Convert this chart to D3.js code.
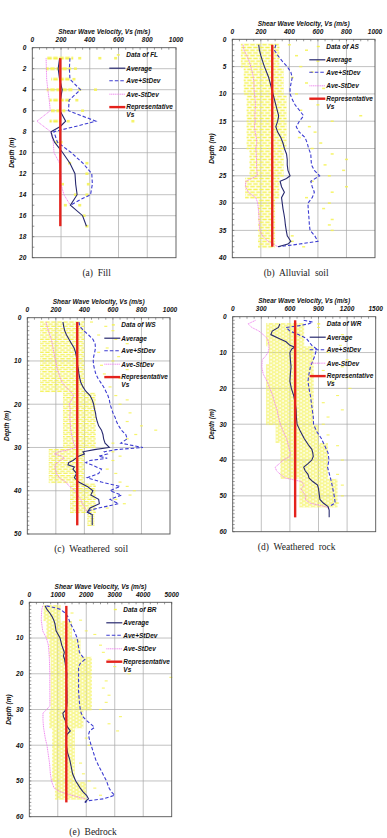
<!DOCTYPE html>
<html>
<head>
<meta charset="utf-8">
<script src="https://cdn.jsdelivr.net/npm/d3@7"></script>
<style>
body { margin: 0; background: #fff; }
svg text { font-family: "Liberation Sans", Arial, sans-serif; }
.ax { font-weight: bold; font-style: italic; font-size: 6.5px; fill: #111; }
.cap { font-family: "Liberation Serif", "Times New Roman", serif; font-size: 9.5px; white-space: pre; fill: #222; }
</style>
</head>
<body>
<script>
// ---- data: [depth (m), Vs (m/s)] ----
var codes = ["FL", "AS", "WS", "WR", "BR"];
var captions = ["(a)  Fill", "(b)  Alluvial  soil", "(c)  Weathered  soil", "(d)  Weathered  rock", "(e)  Bedrock"];
var xTicks = [[0, 200, 400, 600, 800, 1000], [0, 200, 400, 600, 800, 1000], [0, 200, 400, 600, 800, 1000],
              [0, 300, 600, 900, 1200, 1500], [0, 1000, 2000, 3000, 4000, 5000]];
var yTicks = [[0, 2, 4, 6, 8, 10, 12, 14, 16, 18, 20], [0, 5, 10, 15, 20, 25, 30, 35, 40],
              [0, 10, 20, 30, 40, 50], [0, 10, 20, 30, 40, 50, 60], [0, 10, 20, 30, 40, 50, 60]];
// representative Vs: [Vs, top depth, bottom depth]
var repVs = [[195, 1, 17], [280, 1, 38], [350, 1, 48], [655, 1, 56], [1300, 1, 56]];

var fl_avg = [[1,190],[2,180],[3,190],[4,208],[5,195],[6,193],[7,232],[7.5,195],[8,130],[8.5,140],[9,155],[10,212],[11,262],[12,297],[13,302],[14,312],[15,265],[16,350],[17,377]];
var fl_plus = [[1,262],[2,258],[3,262],[4,335],[5,256],[6,252],[7,442],[7.5,300],[8,150],[9,175],[10,272],[11,352],[12,414],[13,418],[14,405],[14.5,330],[15,265]];
var fl_minus = [[1,96],[2,98],[3,100],[4,108],[5,118],[6,125],[7,32],[8,128],[9,146],[10,151],[11,190],[12,200],[13,200],[14,220],[15,265]];
// dense rows of raw data: [top depth, bottom depth, low Vs, high Vs]
var fl_band = [[1,1,100,285],[2,2,95,270],[3,3,130,260],[4,4,100,280],[5,5,120,260],[6,6,130,230],[7,7,120,200]];
var fl_pts = [[1,330],[1,470],[1,580],[2,300],[3,290],[4,330],[4,440],[5,310],[6,350],[7,250],[7,700],[9,170],[9,200],[11,260],[11,380],[12,380],[13,210],[13,390],[14,300],[14,380],[15,230],[15,330],[16,360],[17,380]];

var as_avg = [[1,185],[2,190],[3,200],[4,212],[5,225],[6,240],[7,255],[8,265],[9,275],[10,285],[11,295],[12,305],[13,315],[14,325],[15,318],[16,305],[17,318],[18,340],[19,355],[20,365],[21,380],[22,385],[23,385],[24,390],[25,405],[25.5,380],[26,335],[27,345],[28,365],[29,345],[30,350],[31,355],[32,362],[33,368],[34,372],[35,378],[36,385],[37,410],[37.5,390],[38,320]];
var as_plus = [[1,305],[2,295],[3,320],[4,350],[5,385],[6,410],[7,420],[8,412],[9,405],[10,405],[11,420],[12,440],[13,470],[14,500],[15,470],[16,448],[17,470],[18,510],[19,525],[20,535],[21,550],[22,552],[23,555],[24,575],[25,612],[26,550],[27,560],[28,575],[29,560],[30,530],[31,532],[32,535],[33,538],[34,540],[35,545],[36,578],[37,600],[37.5,470],[38,325]];
var as_minus = [[1,75],[2,82],[3,102],[4,118],[5,130],[6,140],[7,148],[8,152],[9,152],[10,155],[11,160],[12,162],[13,160],[14,158],[15,160],[16,155],[17,160],[18,168],[19,172],[20,165],[21,168],[22,170],[23,170],[24,172],[25,175],[25.5,135],[26,95],[27,92],[28,112],[29,165],[30,178],[31,182],[32,186],[33,187],[34,190],[35,192],[36,212],[37,250],[38,320]];
var as_band = [[1,5,60,330],[5.5,10,80,360],[10.5,20,100,380],[20.5,25,120,360],[25.5,29,90,330],[29.5,38,180,300]];
var as_pts = [[1,400],[2,520],[3,450],[4,600],[5,480],[6,560],[7,420],[8,520],[9,640],[10,450],[11,560],[12,600],[13,480],[14,900],[15,700],[16,540],[17,580],[18,470],[19,620],[20,560],[21,700],[22,800],[23,650],[24,780],[25,680],[26,560],[27,800],[28,700],[29,520],[30,680],[31,640],[33,700],[34,680],[35,700],[36,420],[37,420],[38,500]];

var ws_avg = [[1,250],[2,255],[3,262],[4,275],[5,292],[6,310],[7,328],[8,338],[9,344],[10,348],[11,352],[12,358],[13,362],[14,368],[15,375],[16,390],[17,410],[18,440],[19,455],[20,465],[21,470],[22,478],[23,482],[24,490],[25,500],[26,520],[27,530],[28,535],[29,545],[30,575],[30.5,470],[31,390],[31.5,400],[32,360],[33,320],[33.5,290],[34,285],[34.5,330],[35,320],[36,345],[37,330],[38,360],[39,420],[40,460],[41,445],[42,500],[43,505],[44,440],[45,420],[45.5,455],[48,455]];
var ws_plus = [[1,362],[2,368],[3,395],[4,430],[5,460],[6,475],[7,478],[8,472],[9,465],[10,462],[11,465],[12,472],[13,480],[14,495],[15,515],[16,535],[17,550],[18,565],[19,575],[20,580],[21,590],[22,600],[23,615],[24,625],[25,640],[26,660],[27,690],[28,700],[29,655],[30,810],[30.5,620],[31,540],[31.5,560],[32,500],[32.5,560],[33,440],[33.5,410],[34,450],[35,520],[36,500],[37,420],[38,520],[39,650],[40,580],[41,660],[42,580],[43,640],[44,500],[44.5,440],[45,420],[45.5,455]];
var ws_minus = [[1,132],[2,138],[3,148],[4,158],[5,168],[6,175],[7,180],[8,186],[9,192],[10,198],[11,205],[12,212],[13,222],[14,232],[15,245],[16,270],[17,300],[18,325],[19,310],[20,295],[21,300],[22,300],[23,298],[24,300],[25,302],[26,305],[27,310],[28,318],[29,325],[30,340],[30.5,290],[31,220],[31.5,190],[32,240],[32.5,260],[33,230],[34,195],[35,195],[36,205],[37,225],[38,270],[39,295],[40,335],[41,350],[42,375],[43,385],[44,405],[45,420]];
var ws_band = [[1,17,90,400],[17.5,30,250,480],[30.5,38,150,400],[38.5,45,300,480],[45.5,48,420,470]];
var ws_pts = [[1,450],[2,550],[3,600],[4,500],[5,620],[6,700],[7,560],[8,500],[9,640],[10,600],[11,520],[12,700],[13,540],[14,650],[16,580],[18,620],[19,700],[20,650],[22,720],[24,700],[25,800],[26,900],[27,760],[28,700],[29,600],[31,600],[32,650],[33,600],[35,560],[36,620],[38,650],[39,700],[40,750],[41,720],[42,620],[43,680],[44,560]];

var wr_avg = [[2,495],[3,480],[4,415],[5,400],[6,480],[7,560],[8,600],[8.5,650],[9,620],[10,600],[12,605],[14,612],[16,605],[18,600],[20,615],[22,640],[24,655],[26,665],[28,668],[30,675],[32,710],[34,750],[36,800],[37,830],[38,840],[39,845],[40,830],[41,790],[42,745],[43,760],[44,790],[45,800],[46,840],[47,890],[48,900],[50,910],[51,915],[52,950],[53,1000],[54,1012],[56,1012]];
var wr_plus = [[1,745],[1.5,840],[2,795],[2.5,700],[3,560],[4,600],[5,690],[6,770],[7,800],[8,830],[9,880],[10,870],[11,860],[12,845],[14,815],[16,800],[18,790],[20,800],[22,815],[24,825],[26,835],[28,845],[30,848],[32,880],[34,930],[36,965],[38,1000],[40,1010],[42,995],[44,1015],[46,1035],[48,1050],[50,1065],[52,1075],[53,1012]];
var wr_minus = [[1,240],[2,162],[3,200],[4,275],[5,320],[6,360],[7,375],[8,380],[9,380],[10,370],[11,345],[12,310],[14,305],[16,320],[18,360],[20,390],[22,420],[24,440],[26,465],[28,480],[30,500],[32,530],[34,565],[36,585],[38,605],[39,600],[40,530],[41,490],[42,445],[43,460],[44,500],[45,550],[46,720],[47,750],[48,715],[49,740],[50,770],[51,760],[52,810],[53,970],[53.5,1012]];
var wr_band = [[2,8,350,750],[8.5,13,380,850],[13.5,30,350,850],[30.5,35,450,900],[35.5,45,500,1000],[45.5,53,700,1100]];
var wr_pts = [[3,900],[5,1150],[6,1200],[8,1130],[10,1000],[12,1200],[14,1150],[15,950],[17,1200],[18,1050],[20,1230],[22,1100],[24,950],[26,1150],[28,1000],[30,950],[33,1000],[36,1100],[40,1150],[44,1100],[47,1150],[50,1150],[52,1100]];

var br_avg = [[1,555],[2,620],[3,720],[4,800],[5,860],[6,900],[8,940],[10,1080],[12,1140],[14,1230],[15,1200],[16,1240],[18,1280],[20,1320],[22,1310],[25,1320],[28,1325],[30,1300],[31,1180],[32,1200],[33,1260],[34,1290],[35,1350],[36,1440],[37,1320],[38,1300],[40,1305],[42,1340],[44,1420],[46,1470],[48,1520],[50,1630],[52,1790],[53,1880],[54,2010],[55,2080],[55.5,2000],[56,1950]];
var br_plus = [[1,600],[1.5,900],[2,1100],[3,1260],[4,1350],[5,1400],[6,1450],[8,1580],[10,1680],[12,1720],[14,1760],[15,1850],[16,1950],[17,1800],[18,1730],[20,1730],[22,1730],[25,1730],[28,1760],[30,1790],[31,1820],[32,1880],[33,2000],[34,2150],[35,2290],[36,2120],[37,2080],[38,2100],[40,2170],[42,2250],[44,2330],[46,2450],[48,2580],[50,2710],[52,2800],[53,2880],[54,3000],[55,2600],[55.5,2100],[56,1950]];
var br_minus = [[1,470],[2,440],[3,430],[5,420],[8,470],[10,600],[12,670],[15,700],[17,710],[20,720],[25,720],[29,725],[30,610],[31,480],[33,480],[35,500],[38,560],[40,620],[45,710],[48,740],[50,780],[52,870],[53,1080],[54,1490],[55,1960]];
var br_band = [[1,5,500,1100],[5.5,10,600,1500],[10.5,15,700,1800],[15.5,30,750,2200],[30.5,35,700,1900],[35.5,50,800,1600],[50.5,55,900,2000]];
var br_pts = [[3,1500],[5,1800],[8,2000],[9,2300],[12,2500],[14,2600],[16,2800],[18,3000],[20,3500],[21,4970],[22,2700],[24,2600],[26,2800],[28,2700],[30,2500],[32,3200],[34,2800],[36,3100],[38,2000],[40,2100],[45,1800],[48,1900],[50,2100],[52,2300],[54,2500]];

var avgs = [fl_avg, as_avg, ws_avg, wr_avg, br_avg];
var pluses = [fl_plus, as_plus, ws_plus, wr_plus, br_plus];
var minuses = [fl_minus, as_minus, ws_minus, wr_minus, br_minus];
var bands = [fl_band, as_band, ws_band, wr_band, br_band];
var points = [fl_pts, as_pts, ws_pts, wr_pts, br_pts];

// ---- layout (plot boxes in px: left, top, right, bottom) ----
var boxes = [[32.3, 47.7, 176, 257.7], [232.3, 39.3, 375, 257.7], [27.3, 317.7, 170, 534],
             [232.7, 316.7, 375.7, 531.7], [29.3, 602.3, 171.7, 816.7]];
var rowStep = [1, 0.5, 0.5, 0.5, 0.5]; // depth spacing of the data rows

var yellow = "#f4f250";
var navy = "#26286e";
var blue = "#3c3cd2";
var pink = "#ee80ee";
var red = "#e4221c";

var svg = d3.select("body").append("svg")
    .attr("width", 387)
    .attr("height", 838);
var defs = svg.append("defs");

codes.forEach(function(code, i) {
    var L = boxes[i][0], T = boxes[i][1], R = boxes[i][2], B = boxes[i][3];
    var xt = xTicks[i], yt = yTicks[i];
    var x = d3.scaleLinear().domain([0, xt[xt.length - 1]]).range([L, R]);
    var y = d3.scaleLinear().domain([0, yt[yt.length - 1]]).range([T, B]);
    var g = svg.append("g").attr("class", "panel-" + code);

    // gridlines
    g.selectAll(".vgrid").data(xt.slice(1, -1)).enter().append("line")
        .attr("x1", function(d) { return x(d); }).attr("x2", function(d) { return x(d); })
        .attr("y1", T).attr("y2", B)
        .style("stroke", "#a8a8a8").style("stroke-width", 0.7);
    g.selectAll(".hgrid").data(yt.slice(1, -1)).enter().append("line")
        .attr("y1", function(d) { return y(d); }).attr("y2", function(d) { return y(d); })
        .attr("x1", L).attr("x2", R)
        .style("stroke", "#a8a8a8").style("stroke-width", 0.7);

    // raw data rows drawn as yellow dashes (alternate rows staggered)
    var rowPx = y(rowStep[i]) - y(0);
    var dh = Math.min(2.6, Math.max(1.1, rowPx * 0.55));
    var pw = 6, dw = 4.6;
    var pat = defs.append("pattern")
        .attr("id", "dash" + i)
        .attr("patternUnits", "userSpaceOnUse")
        .attr("x", L).attr("y", T - rowPx / 2)
        .attr("width", pw).attr("height", rowPx * 2);
    pat.append("rect")
        .attr("x", 0).attr("y", rowPx / 2 - dh / 2)
        .attr("width", dw).attr("height", dh)
        .style("fill", yellow);
    pat.append("rect")
        .attr("x", pw / 2).attr("y", rowPx * 1.5 - dh / 2)
        .attr("width", dw).attr("height", dh)
        .style("fill", yellow);
    pat.append("rect")
        .attr("x", pw / 2 - pw).attr("y", rowPx * 1.5 - dh / 2)
        .attr("width", dw).attr("height", dh)
        .style("fill", yellow);
    g.selectAll(".band").data(bands[i]).enter().append("rect")
        .attr("x", function(d) { return x(d[2]); })
        .attr("width", function(d) { return x(d[3]) - x(d[2]); })
        .attr("y", function(d) { return y(d[0]) - rowPx / 2; })
        .attr("height", function(d) { return y(d[1]) - y(d[0]) + rowPx; })
        .style("fill", "url(#dash" + i + ")");
    g.selectAll(".pt").data(points[i]).enter().append("rect")
        .attr("x", function(d) { return x(d[1]) - 1.5; })
        .attr("y", function(d) { return y(d[0]) - dh / 2; })
        .attr("width", 3).attr("height", dh)
        .style("fill", yellow).style("opacity", 0.85);

    // curves
    var line = d3.line()
        .x(function(d) { return x(d[1]); })
        .y(function(d) { return y(d[0]); });
    g.append("path").datum(minuses[i]).attr("d", line)
        .style("fill", "none").style("stroke", pink).style("stroke-width", 0.9)
        .style("stroke-dasharray", "1.2,0.6");
    g.append("path").datum(pluses[i]).attr("d", line)
        .style("fill", "none").style("stroke", blue).style("stroke-width", 1.1)
        .style("stroke-dasharray", "3.5,2");
    g.append("path").datum(avgs[i]).attr("d", line)
        .style("fill", "none").style("stroke", navy).style("stroke-width", 1.1);
    g.append("line")
        .attr("x1", x(repVs[i][0])).attr("x2", x(repVs[i][0]))
        .attr("y1", y(repVs[i][1])).attr("y2", y(repVs[i][2]))
        .style("stroke", red).style("stroke-width", 2.4);

    // frame and minor ticks
    g.append("rect")
        .attr("x", L).attr("y", T).attr("width", R - L).attr("height", B - T)
        .style("fill", "none").style("stroke", "#555").style("stroke-width", 0.9);
    var xStep = xt[1] - xt[0];
    g.selectAll(".xminor").data(d3.range(0, xt[xt.length - 1] + 1, xStep / 4)).enter().append("line")
        .attr("x1", function(d) { return x(d); }).attr("x2", function(d) { return x(d); })
        .attr("y1", T).attr("y2", T + 2)
        .style("stroke", "#555").style("stroke-width", 0.6);
    g.selectAll(".yminor").data(d3.range(0, yt[yt.length - 1] + 1, 1)).enter().append("line")
        .attr("y1", function(d) { return y(d); }).attr("y2", function(d) { return y(d); })
        .attr("x1", L).attr("x2", L + 2)
        .style("stroke", "#555").style("stroke-width", 0.6);

    // tick labels
    g.selectAll(".xlab").data(xt).enter().append("text")
        .attr("class", "ax")
        .attr("x", function(d) { return x(d); })
        .attr("y", T - 5.5)
        .attr("text-anchor", "middle")
        .text(function(d) { return d; });
    g.selectAll(".ylab").data(yt).enter().append("text")
        .attr("class", "ax")
        .attr("x", L - 6)
        .attr("y", function(d) { return y(d) + 2.3; })
        .attr("text-anchor", "end")
        .text(function(d) { return d; });

    // axis titles
    g.append("text").attr("class", "ax")
        .attr("x", (L + R) / 2).attr("y", T - 13.5)
        .attr("text-anchor", "middle")
        .text("Shear Wave Velocity,  Vs (m/s)");
    g.append("text").attr("class", "ax")
        .attr("transform", "translate(" + (L - 20.6) + "," + ((T + B) / 2) + ") rotate(-90)")
        .attr("text-anchor", "middle")
        .attr("dy", "0.35em")
        .text("Depth (m)");

    // legend
    var lx = L + 94, ly = T;
    g.append("rect").attr("x", lx - 9.5).attr("y", ly + 6.5)
        .attr("width", 3).attr("height", 1.4).style("fill", yellow);
    g.append("text").attr("class", "ax").attr("x", lx).attr("y", ly + 9.5).text("Data of " + code);
    g.append("line").attr("x1", lx - 17).attr("x2", lx - 1).attr("y1", ly + 20.5).attr("y2", ly + 20.5)
        .style("stroke", navy).style("stroke-width", 1.2);
    g.append("text").attr("class", "ax").attr("x", lx).attr("y", ly + 22.8).text("Average");
    g.append("line").attr("x1", lx - 17).attr("x2", lx - 1).attr("y1", ly + 33).attr("y2", ly + 33)
        .style("stroke", blue).style("stroke-width", 1.1).style("stroke-dasharray", "3.5,2");
    g.append("text").attr("class", "ax").attr("x", lx).attr("y", ly + 35.3).text("Ave+StDev");
    g.append("line").attr("x1", lx - 17).attr("x2", lx - 1).attr("y1", ly + 46.5).attr("y2", ly + 46.5)
        .style("stroke", pink).style("stroke-width", 0.9).style("stroke-dasharray", "1.2,0.6");
    g.append("text").attr("class", "ax").attr("x", lx).attr("y", ly + 48.8).text("Ave-StDev");
    g.append("line").attr("x1", lx - 17).attr("x2", lx - 1).attr("y1", ly + 59.4).attr("y2", ly + 59.4)
        .style("stroke", red).style("stroke-width", 2.4);
    g.append("text").attr("class", "ax").attr("x", lx).attr("y", ly + 61.7).text("Representative");
    g.append("text").attr("class", "ax").attr("x", lx).attr("y", ly + 69.5).text("Vs");

    // caption
    g.append("text").attr("class", "cap")
        .attr("x", (L + R) / 2 - 7.5).attr("y", B + 18)
        .attr("text-anchor", "middle")
        .text(captions[i]);
});
</script>
</body>
</html>
